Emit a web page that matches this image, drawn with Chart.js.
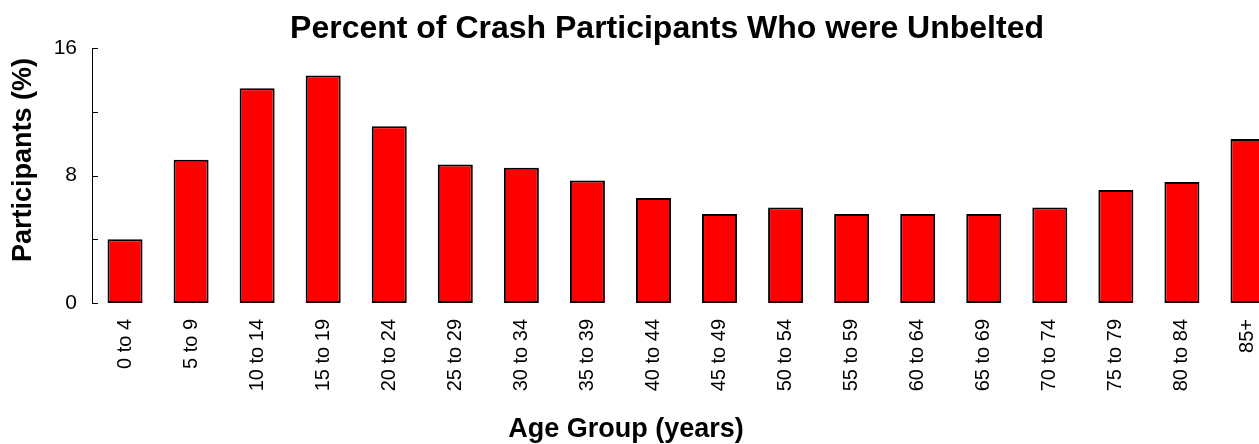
<!DOCTYPE html>
<html>
<head>
<meta charset="utf-8">
<script src="https://cdn.jsdelivr.net/npm/chart.js@4.4.1/dist/chart.umd.min.js"></script>
<style>
  html, body { margin: 0; padding: 0; overflow: hidden; background: #fff; }
  canvas { display: block; }
</style>
</head>
<body>
<canvas id="unbelted-chart" width="1336" height="444"></canvas>
<script>
// Age groups and percent unbelted
const ageGroups = ['0 to 4', '5 to 9', '10 to 14', '15 to 19', '20 to 24', '25 to 29',
  '30 to 34', '35 to 39', '40 to 44', '45 to 49', '50 to 54', '55 to 59',
  '60 to 64', '65 to 69', '70 to 74', '75 to 79', '80 to 84', '85+'];
const pctUnbelted = [4.0, 9.0, 13.5, 14.3, 11.1, 8.7, 8.5, 7.7, 6.6, 5.6, 6.0, 5.6,
  5.6, 5.6, 6.0, 7.1, 7.6, 10.3];
const yTicks = [0, 4, 8, 12, 16];
const yLabelled = [0, 8, 16];

const chartTitle = 'Percent of Crash Participants Who were Unbelted';
const xTitle = 'Age Group (years)';
const yTitle = 'Participants (%)';

const fontFamily = "'Liberation Sans', Arial, Helvetica, sans-serif";

// small inward tick marks on the y axis + the two axis titles
const axisExtras = {
  id: 'axisExtras',
  afterDraw(chart) {
    const ctx = chart.ctx;
    const area = chart.chartArea;
    const yScale = chart.scales.y;
    ctx.save();
    ctx.strokeStyle = '#000';
    ctx.lineWidth = 1;
    yTicks.forEach(v => {
      const py = Math.round(yScale.getPixelForValue(v)) + 0.5;
      ctx.beginPath();
      ctx.moveTo(area.left, py);
      ctx.lineTo(area.left + 6, py);
      ctx.stroke();
    });

    ctx.fillStyle = '#000';
    ctx.font = 'bold 27px ' + fontFamily;
    ctx.textAlign = 'center';
    ctx.textBaseline = 'alphabetic';
    ctx.fillText(xTitle, 626, 437);

    ctx.translate(31, 160);
    ctx.rotate(-Math.PI / 2);
    ctx.fillText(yTitle, 0, 0);
    ctx.restore();
  }
};

const ctx = document.getElementById('unbelted-chart').getContext('2d');
new Chart(ctx, {
  type: 'bar',
  data: {
    labels: ageGroups,
    datasets: [{
      label: 'Unbelted (%)',
      data: pctUnbelted,
      backgroundColor: '#ff0000',
      borderColor: '#000000',
      borderWidth: 2,
      borderSkipped: false,
      categoryPercentage: 1.0,
      barPercentage: 0.53
    }]
  },
  options: {
    responsive: false,
    animation: false,
    // left padding only shifts the title centre; the y axis width below makes up the rest
    layout: { padding: { left: 53, right: 55, top: 0, bottom: 0 } },
    plugins: {
      legend: { display: false },
      tooltip: { enabled: false },
      title: {
        display: true,
        text: chartTitle,
        color: '#000',
        font: { family: fontFamily, size: 32, weight: 'bold' },
        padding: { top: 10, bottom: 0 }
      }
    },
    scales: {
      x: {
        grid: { display: false, drawTicks: false },
        border: { display: false },
        ticks: {
          color: '#000',
          autoSkip: false,
          maxRotation: 90,
          minRotation: 90,
          padding: 16,
          font: { family: fontFamily, size: 20 }
        },
        afterFit: (scale) => { scale.height = 141; }
      },
      y: {
        min: 0,
        max: 16,
        grid: { display: false, drawTicks: false },
        border: { display: true, color: '#000', width: 1 },
        ticks: {
          stepSize: 4,
          color: '#000',
          padding: 15,
          font: { family: fontFamily, size: 21 },
          callback: (v) => (yLabelled.includes(v) ? v : '')
        },
        afterFit: (scale) => { scale.width = 39; }
      }
    }
  },
  plugins: [axisExtras]
});
</script>
</body>
</html>
